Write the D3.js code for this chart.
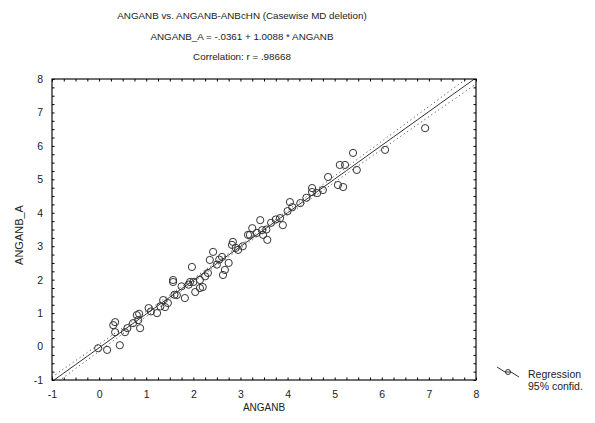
<!DOCTYPE html>
<html>
<head>
<meta charset="utf-8">
<script src="https://cdn.jsdelivr.net/npm/d3@7"></script>
<style>
  body { margin: 0; background: #fff; }
  text { font-family: "Liberation Sans Narrow", "Arial Narrow", "Liberation Sans", sans-serif; fill: #222; }
</style>
</head>
<body>
<svg id="chart"></svg>
<script>
// data (ANGANB, ANGANB_A)
const anganb = [
  -0.02, 0.17, 0.30, 0.34, 0.34, 0.44, 0.55, 0.72, 0.80, 0.83, 0.87, 0.85,
  1.23, 1.36, 1.40, 1.46, 1.57, 1.57, 1.65, 1.82, 1.93, 1.97, 2.00, 2.04,
  2.14, 2.14, 2.20, 2.31, 2.35, 2.42, 2.61, 2.63, 2.67, 2.75, 2.82, 2.84,
  2.95, 3.16, 3.20, 3.25, 3.42, 3.46, 3.48, 3.57, 3.84, 3.90, 4.05, 4.10,
  4.27, 4.52, 4.52, 4.63, 4.75, 4.86, 5.07, 5.11, 5.18, 5.22, 5.39, 5.47,
  6.07, 6.92, 1.10, 1.30, 1.75, 2.50, 2.90, 3.05, 3.65, 3.75, 4.40, 1.05,
  1.60, 2.25, 3.35, 4.00, 0.60, 1.90, 2.55, 3.55
];
const anganbA = [
  -0.05, -0.10, 0.64, 0.73, 0.43, 0.04, 0.43, 0.70, 0.94, 0.79, 0.55, 0.98,
  1.00, 1.39, 1.18, 1.30, 1.93, 1.99, 1.54, 1.45, 1.93, 2.38, 1.93, 1.63,
  1.99, 1.75, 1.78, 2.20, 2.59, 2.83, 2.68, 2.14, 2.29, 2.50, 3.04, 3.13,
  2.89, 3.34, 3.34, 3.54, 3.78, 3.48, 3.34, 3.19, 3.84, 3.63, 4.32, 4.17,
  4.29, 4.62, 4.74, 4.59, 4.68, 5.07, 4.83, 5.43, 4.77, 5.43, 5.79, 5.28,
  5.88, 6.53, 1.05, 1.20, 1.80, 2.45, 2.95, 3.00, 3.70, 3.80, 4.45, 1.15,
  1.55, 2.10, 3.40, 4.05, 0.55, 1.85, 2.60, 3.50
];
const titleLines = [
  "ANGANB vs. ANGANB-ANBcHN (Casewise MD deletion)",
  "ANGANB_A = -.0361 + 1.0088 * ANGANB",
  "Correlation: r = .98668"
];
const intercept = -0.0361;
const slope = 1.0088;
const ticks = [-1, 0, 1, 2, 3, 4, 5, 6, 7, 8];
const legendLabels = ["Regression", "95% confid."];

const svgWidth = 595, svgHeight = 423;
const marginLeft = 52, marginRight = 119, marginTop = 79, marginBottom = 43;

const svg = d3.select("#chart")
  .attr("width", svgWidth)
  .attr("height", svgHeight);

svg.append("rect").attr("width", "100%").attr("height", "100%").attr("fill", "white");

const x = d3.scaleLinear().domain([-1, 8]).range([marginLeft, svgWidth - marginRight]);
const y = d3.scaleLinear().domain([-1, 8]).range([svgHeight - marginBottom, marginTop]);
const fmt = d => String(d); // plain hyphen for negatives, like the original

// titles
svg.append("g").selectAll("text").data(titleLines).join("text")
  .attr("x", 242)
  .attr("y", (d, i) => 19 + i * 20.5)
  .attr("text-anchor", "middle")
  .style("font-size", "9.8px")
  .text(d => d);

// clip for lines
svg.append("clipPath").attr("id", "plotclip")
  .append("rect")
  .attr("x", x(-1)).attr("y", y(8))
  .attr("width", x(8) - x(-1)).attr("height", y(-1) - y(8));

// regression + confidence band
const n = anganb.length;
const mx = d3.mean(anganb);
const sxx = d3.sum(anganb, v => (v - mx) ** 2);
const resid = anganb.map((v, i) => anganbA[i] - (intercept + slope * v));
const s = Math.sqrt(d3.sum(resid, r => r * r) / (n - 2));
const grid = d3.range(-1, 8.01, 0.25);
const band = grid.map(v => {
  const fit = intercept + slope * v;
  const h = 1.99 * s * Math.sqrt(1 / n + (v - mx) ** 2 / sxx);
  return { x: v, fit, lo: fit - h, hi: fit + h };
});

const lineG = svg.append("g").attr("clip-path", "url(#plotclip)");
lineG.append("path")
  .datum(band)
  .attr("fill", "none").attr("stroke", "#333").attr("stroke-width", 1)
  .attr("d", d3.line().x(d => x(d.x)).y(d => y(d.fit)));
["lo", "hi"].forEach(k => {
  lineG.append("path")
    .datum(band)
    .attr("fill", "none").attr("stroke", "#555").attr("stroke-width", 1)
    .attr("stroke-dasharray", "1.2,3")
    .attr("d", d3.line().x(d => x(d.x)).y(d => y(d[k])));
});

// points
svg.append("g").selectAll("circle")
  .data(anganb.map((v, i) => [v, anganbA[i]]))
  .join("circle")
  .attr("cx", d => x(d[0]))
  .attr("cy", d => y(d[1]))
  .attr("r", 3.6)
  .attr("fill", "none")
  .attr("stroke", "#333")
  .attr("stroke-width", 1);

// frame
svg.append("rect")
  .attr("x", x(-1)).attr("y", y(8))
  .attr("width", x(8) - x(-1)).attr("height", y(-1) - y(8))
  .attr("fill", "none").attr("stroke", "#222").attr("stroke-width", 1.3);

// minor ticks pointing inward on all four sides
const minor = d3.range(-1, 8.001, 0.25);
svg.append("g")
  .attr("transform", `translate(0,${y(-1)})`)
  .call(d3.axisTop(x).tickValues(minor).tickSize(2.5).tickFormat(""))
  .call(g => g.select(".domain").remove());
svg.append("g")
  .attr("transform", `translate(0,${y(8)})`)
  .call(d3.axisBottom(x).tickValues(minor).tickSize(2.5).tickFormat(""))
  .call(g => g.select(".domain").remove());
svg.append("g")
  .attr("transform", `translate(${x(-1)},0)`)
  .call(d3.axisRight(y).tickValues(minor).tickSize(2.5).tickFormat(""))
  .call(g => g.select(".domain").remove());
svg.append("g")
  .attr("transform", `translate(${x(8)},0)`)
  .call(d3.axisLeft(y).tickValues(minor).tickSize(2.5).tickFormat(""))
  .call(g => g.select(".domain").remove());

// tick labels
svg.append("g")
  .attr("transform", `translate(0,${y(-1)})`)
  .call(d3.axisBottom(x).tickValues(ticks).tickSize(0).tickPadding(11).tickFormat(fmt))
  .call(g => g.select(".domain").remove())
  .call(g => g.selectAll("text").style("font-size", "10.5px"));
svg.append("g")
  .attr("transform", `translate(${x(-1)},0)`)
  .call(d3.axisLeft(y).tickValues(ticks).tickSize(0).tickPadding(9).tickFormat(fmt))
  .call(g => g.select(".domain").remove())
  .call(g => g.selectAll("text").style("font-size", "10.5px"));

// axis titles
svg.append("text")
  .attr("x", 264).attr("y", 411)
  .attr("text-anchor", "middle")
  .style("font-size", "10px")
  .text("ANGANB");
svg.append("text")
  .attr("transform", "translate(23,235) rotate(-90)")
  .attr("text-anchor", "middle")
  .style("font-size", "11px")
  .text("ANGANB_A");

// legend
const leg = svg.append("g").attr("transform", "translate(497,367)");
leg.append("path")
  .attr("d", "M0,0 L8,5 L14,5 L22,10")
  .attr("fill", "none").attr("stroke", "#333").attr("stroke-width", 1);
leg.append("circle").attr("cx", 11).attr("cy", 5).attr("r", 2.5)
  .attr("fill", "none").attr("stroke", "#333");
leg.selectAll("text.lg").data(legendLabels).join("text")
  .attr("class", "lg")
  .attr("x", 31)
  .attr("y", (d, i) => 11 + i * 12)
  .style("font-size", "10.5px")
  .text(d => d);
</script>
</body>
</html>
